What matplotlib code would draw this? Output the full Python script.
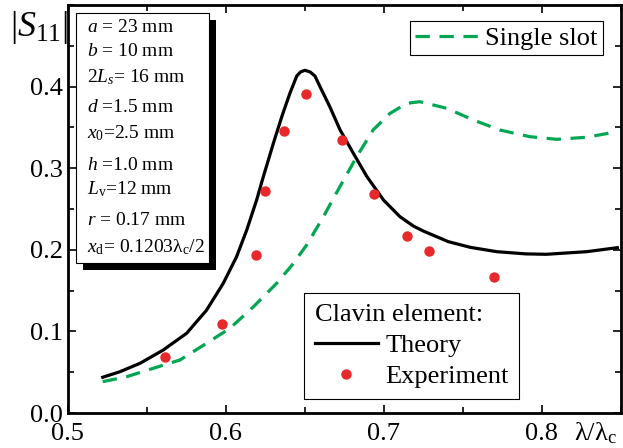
import matplotlib
matplotlib.use("Agg")
import matplotlib.pyplot as plt
from matplotlib.lines import Line2D
from matplotlib.patches import Rectangle
from matplotlib.ticker import MultipleLocator

plt.rcParams["font.family"] = ["Liberation Serif", "DejaVu Serif"]
plt.rcParams["mathtext.fontset"] = "custom"
plt.rcParams["mathtext.rm"] = "Liberation Serif"
plt.rcParams["mathtext.it"] = "Liberation Serif:italic"

# Clavin element, theory curve (lambda/lambda_c, |S11|)
theory_x = [0.5223, 0.5332, 0.5459, 0.5606, 0.5754, 0.588, 0.5986, 0.607, 0.6134,
            0.6197, 0.624, 0.6303, 0.6356, 0.6408, 0.6451, 0.6475, 0.6503, 0.6535,
            0.6566, 0.6598, 0.6661, 0.6725, 0.681, 0.6894, 0.700, 0.7104, 0.719,
            0.7252, 0.741, 0.755, 0.7717, 0.790, 0.803, 0.8286, 0.848]
theory_y = [0.0438, 0.0506, 0.0609, 0.0772, 0.0977, 0.126, 0.159, 0.1915, 0.224,
            0.261, 0.290, 0.3305, 0.363, 0.392, 0.413, 0.418, 0.420, 0.418,
            0.413, 0.400, 0.375, 0.347, 0.318, 0.290, 0.261, 0.2406, 0.229,
            0.223, 0.210, 0.203, 0.1977, 0.195, 0.1945, 0.1977, 0.2026]

# Single slot curve
slot_x = [0.5223, 0.5375, 0.5543, 0.5712, 0.588, 0.6028, 0.6176, 0.6324, 0.642,
          0.6514, 0.662, 0.670, 0.683, 0.6935, 0.704, 0.7147, 0.723, 0.740,
          0.757, 0.7737, 0.7927, 0.8096, 0.8286, 0.8476]
slot_y = [0.0384, 0.0445, 0.0548, 0.065, 0.0854, 0.1038, 0.130, 0.159, 0.181,
          0.206, 0.2406, 0.269, 0.314, 0.347, 0.367, 0.3795, 0.3815, 0.3734,
          0.359, 0.3468, 0.3386, 0.3354, 0.3379, 0.3447]

# Experiment points
exp_x = [0.562, 0.598, 0.619, 0.625, 0.637, 0.651, 0.674, 0.694, 0.715, 0.729, 0.770]
exp_y = [0.069, 0.109, 0.194, 0.272, 0.346, 0.391, 0.334, 0.268, 0.217, 0.199, 0.167]

params = [
    r"$a$ = 23 mm",
    r"$b$ = 10 mm",
    r"2$L_s$= 16 mm",
    r"$d$ =1.5 mm",
    r"$x_0$=2.5 mm",
    r"$h$ =1.0 mm",
    r"$L_\mathrm{v}$=12 mm",
    r"$r$ = 0.17 mm",
    r"$x_\mathrm{d}$= 0.1203λ$_\mathrm{c}$/2",
]
param_rows_px = [27, 52, 77, 108, 133, 165, 189, 220, 247]

W, H = 623, 448
fig = plt.figure(figsize=(W / 100, H / 100), dpi=100)
ax = fig.add_axes([67.5 / W, 1 - 413 / H, (620.5 - 67.5) / W, (413 - 5) / H])

green = "#00a651"
red = "#e8282b"

ax.plot(theory_x, theory_y, color="black", lw=2.3, label="Theory",
        solid_joinstyle="round")
slot_line, = ax.plot(slot_x, slot_y, color=green, lw=2.3, dashes=(4.5, 3),
                     label="Single slot")
ax.plot(exp_x, exp_y, "o", color=red, ms=7.5, mec="none", label="Experiment")

ax.set_xlim(0.5, 0.85)
ax.set_ylim(0.0, 0.5)
ax.xaxis.set_minor_locator(MultipleLocator(0.05))
ax.yaxis.set_minor_locator(MultipleLocator(0.05))
ax.set_xticks([0.5, 0.6, 0.7, 0.8])
ax.set_xticklabels(["0.5", "0.6", "0.7", "0.8"])
ax.set_yticks([0.0, 0.1, 0.2, 0.3, 0.4])
ax.set_yticklabels(["0.0", "0.1", "0.2", "0.3", "0.4"])
ax.tick_params(which="both", direction="in", top=True, right=True, width=1.2)
ax.tick_params(which="major", length=6, labelsize=19, pad=3)
ax.tick_params(which="minor", length=4.5)
ax.tick_params(axis="x", pad=7)
for s in ax.spines.values():
    s.set_linewidth(2)

# parameter box with shadow
fig.patches.append(Rectangle((83 / W, 1 - 270 / H), 133 / W, 250 / H,
                             transform=fig.transFigure, facecolor="black",
                             edgecolor="none", zorder=5))
fig.patches.append(Rectangle((76 / W, 1 - 263 / H), 133 / W, 250 / H,
                             transform=fig.transFigure, facecolor="white",
                             edgecolor="black", lw=0.8, zorder=6))
for txt, ypx in zip(params, param_rows_px):
    fig.text(87 / W, 1 - ypx / H, txt, fontsize=14, va="center", ha="left",
             zorder=7)

# axis labels
fig.text(10 / W, 1 - 28 / H, r"|$S_{11}$|", fontsize=26, va="center", ha="left")
fig.text(574 / W, 1 - 433 / H, r"λ/λ$_\mathrm{c}$", fontsize=19, va="center",
         ha="left")

leg1 = ax.legend(handles=[slot_line], loc="upper right",
                 bbox_to_anchor=(603 / W, 1 - 21 / H), bbox_transform=fig.transFigure,
                 borderaxespad=0, fancybox=False, framealpha=1, edgecolor="black",
                 fontsize=19, handlelength=2.4, handletextpad=0.25,
                 borderpad=0.2)
leg1.get_frame().set_linewidth(0.8)
ax.add_artist(leg1)

h_theory = Line2D([], [], color="black", lw=2.3)
h_exp = Line2D([], [], marker="o", color=red, ms=7.5, mec="none", ls="none")
leg2 = ax.legend(handles=[h_theory, h_exp], labels=["Theory", "Experiment"],
                 title="Clavin element:", title_fontsize=19, alignment="left",
                 loc="lower right", bbox_to_anchor=(519 / W, 1 - 399 / H),
                 bbox_transform=fig.transFigure, borderaxespad=0, fancybox=False,
                 framealpha=1, edgecolor="black", fontsize=19, handlelength=2.4,
                 handletextpad=0.27, borderpad=0.4, labelspacing=0.3)
leg2.get_frame().set_linewidth(0.8)

fig.savefig("out.png", dpi=100)
